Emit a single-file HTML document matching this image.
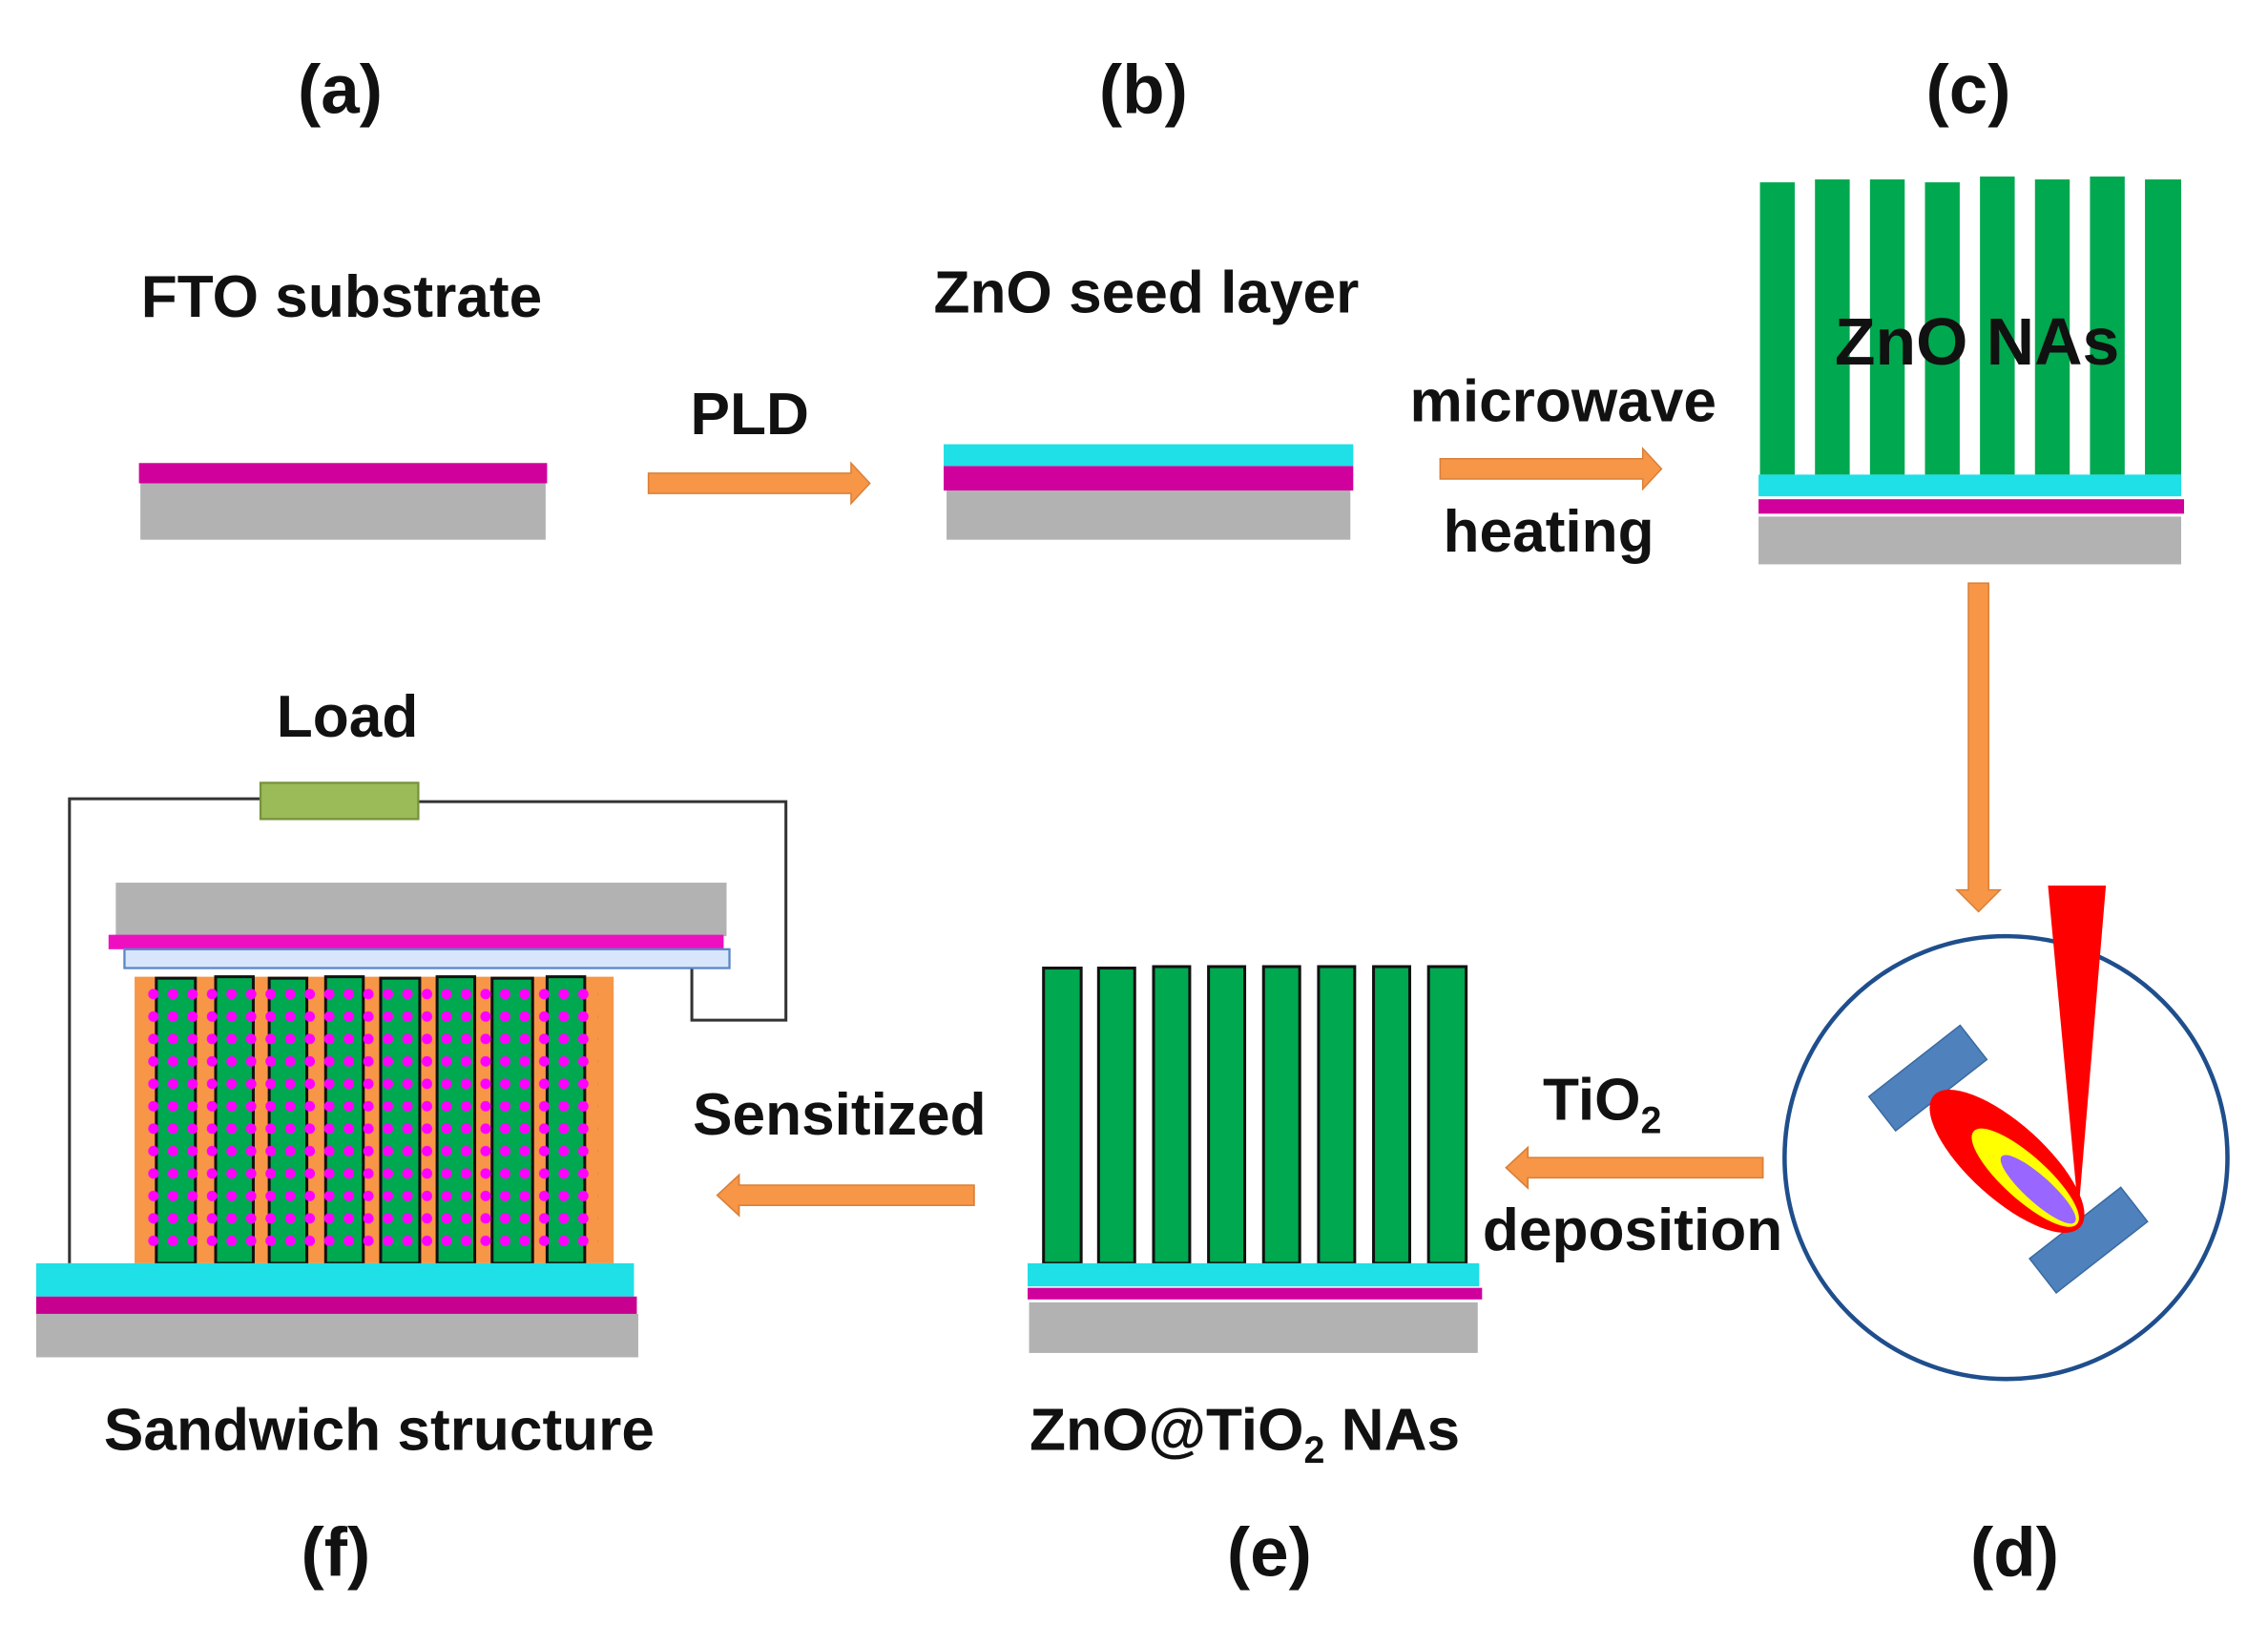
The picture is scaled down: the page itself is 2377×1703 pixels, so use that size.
<!DOCTYPE html>
<html><head><meta charset="utf-8"><style>html,body{margin:0;padding:0;background:#fff}svg{display:block}text{font-family:"Liberation Sans",Arial,sans-serif;font-weight:bold;fill:#111}</style></head>
<body>
<svg width="2377" height="1703" viewBox="0 0 1567 1123" preserveAspectRatio="none" xmlns="http://www.w3.org/2000/svg">
<defs>
<pattern id="dots" x="100" y="680" width="13.5" height="15.5" patternUnits="userSpaceOnUse">
<circle cx="6" cy="7" r="3.6" fill="#ff00ff"/>
</pattern>
<g id="arr">
<polygon points="0,-7 140,-7 140,-14 153,0 140,14 140,7 0,7" fill="#f79646" stroke="#d9803a" stroke-width="1"/>
</g>
</defs>
<text x="235" y="78" font-size="48" text-anchor="middle">(a)</text>
<text x="790" y="78" font-size="48" text-anchor="middle">(b)</text>
<text x="1360" y="78" font-size="48" text-anchor="middle">(c)</text>
<text x="232" y="1089" font-size="48" text-anchor="middle">(f)</text>
<text x="877" y="1089" font-size="48" text-anchor="middle">(e)</text>
<text x="1392" y="1089" font-size="48" text-anchor="middle">(d)</text>

<!-- a -->
<text x="236" y="219" font-size="41" text-anchor="middle">FTO substrate</text>
<rect x="97" y="334" width="280" height="39" fill="#b2b2b2"/>
<rect x="96" y="320" width="282" height="14" fill="#d0009c"/>
<text x="518" y="300" font-size="41" text-anchor="middle">PLD</text>
<use href="#arr" transform="translate(448,334)"/>

<!-- b -->
<text x="792" y="216" font-size="41" text-anchor="middle">ZnO seed layer</text>
<rect x="654" y="339" width="279" height="34" fill="#b2b2b2"/>
<rect x="652" y="322" width="283" height="17" fill="#d0009c"/>
<rect x="652" y="307" width="283" height="15" fill="#1ee0e6"/>
<text x="1080" y="291" font-size="41" text-anchor="middle">microwave</text>
<use href="#arr" transform="translate(995,324)"/>
<text x="1070" y="381" font-size="41" text-anchor="middle">heating</text>

<!-- c -->
<g fill="#00a84f">
<rect x="1216" y="126" width="24" height="202"/><rect x="1254" y="124" width="24" height="204"/>
<rect x="1292" y="124" width="24" height="204"/><rect x="1330" y="126" width="24" height="202"/>
<rect x="1368" y="122" width="24" height="206"/><rect x="1406" y="124" width="24" height="204"/>
<rect x="1444" y="122" width="24" height="206"/><rect x="1482" y="124" width="25" height="204"/>
</g>
<text x="1366" y="252" font-size="46" text-anchor="middle">ZnO NAs</text>
<rect x="1215" y="328" width="292" height="15" fill="#1ee0e6"/>
<rect x="1215" y="345" width="294" height="10" fill="#d0009c"/>
<rect x="1215" y="357" width="292" height="33" fill="#b2b2b2"/>
<polygon points="1360,403 1374,403 1374,615 1382,615 1367,630 1352,615 1360,615" fill="#f79646" stroke="#d9803a" stroke-width="1"/>

<!-- d -->
<circle cx="1386" cy="800" r="153" fill="none" stroke="#1f4e8c" stroke-width="3"/>
<rect x="1292" y="730" width="80" height="30" fill="#4f81bd" stroke="#3a6aa0" stroke-width="1" transform="rotate(-38 1332 745)"/>
<rect x="1403" y="842" width="80" height="30" fill="#4f81bd" stroke="#3a6aa0" stroke-width="1" transform="rotate(-38 1443 857)"/>
<g transform="translate(1435,846) rotate(-138)">
<ellipse cx="65" cy="0" rx="68" ry="26" fill="#ff0000"/>
<ellipse cx="48" cy="0" rx="48" ry="15" fill="#ffff00"/>
<ellipse cx="36" cy="0" rx="34" ry="9" fill="#9966ff"/>
</g>
<polygon points="1415,612 1455,612 1436,838" fill="#ff0000"/>
<text x="1066" y="774" font-size="41">TiO<tspan font-size="26" dy="9">2</tspan></text>
<use href="#arr" transform="translate(1218,807) scale(-1.16,1)"/>
<text x="1128" y="864" font-size="41" text-anchor="middle">deposition</text>

<!-- e -->
<g fill="#00a84f" stroke="#111" stroke-width="2">
<rect x="721" y="669" width="26" height="204"/><rect x="759" y="669" width="25" height="204"/>
<rect x="797" y="668" width="25" height="205"/><rect x="835" y="668" width="25" height="205"/>
<rect x="873" y="668" width="25" height="205"/><rect x="911" y="668" width="25" height="205"/>
<rect x="949" y="668" width="25" height="205"/><rect x="987" y="668" width="26" height="205"/>
</g>
<rect x="710" y="873" width="312" height="16" fill="#1ee0e6"/>
<rect x="710" y="890" width="314" height="8" fill="#d0009c"/>
<rect x="711" y="900" width="310" height="35" fill="#b2b2b2"/>
<text x="860" y="1002" font-size="41" text-anchor="middle">ZnO@TiO<tspan font-size="26" dy="9">2</tspan><tspan dy="-9"> NAs</tspan></text>
<text x="580" y="784" font-size="41" text-anchor="middle">Sensitized</text>
<use href="#arr" transform="translate(673,826) scale(-1.16,1)"/>

<!-- f -->
<text x="240" y="509" font-size="41" text-anchor="middle">Load</text>
<polyline points="48,873 48,552 180,552" fill="none" stroke="#333" stroke-width="2"/>
<polyline points="289,554 543,554 543,705 478,705 478,668" fill="none" stroke="#333" stroke-width="2"/>
<rect x="180" y="541" width="109" height="25" fill="#9bbb59" stroke="#77933c" stroke-width="1.5"/>
<rect x="80" y="610" width="422" height="37" fill="#b2b2b2"/>
<rect x="75" y="646" width="425" height="10" fill="#ee10c0"/>
<rect x="86" y="656" width="418" height="13" fill="#d8e6fb" stroke="#5a86c6" stroke-width="1.5"/>
<rect x="93" y="675" width="331" height="198" fill="#f79646"/>
<g fill="#00a84f" stroke="#111" stroke-width="2">
<rect x="108" y="676" width="27" height="197"/><rect x="149" y="675" width="26" height="198"/>
<rect x="186" y="676" width="26" height="197"/><rect x="225" y="675" width="26" height="198"/>
<rect x="263" y="676" width="27" height="197"/><rect x="302" y="675" width="26" height="198"/>
<rect x="340" y="676" width="28" height="197"/><rect x="378" y="675" width="26" height="198"/>
</g>
<rect x="101" y="678" width="312" height="190" fill="url(#dots)"/>
<rect x="25" y="873" width="413" height="23" fill="#1ee0e6"/>
<rect x="25" y="896" width="415" height="12" fill="#c8008f"/>
<rect x="25" y="908" width="416" height="30" fill="#b2b2b2"/>
<text x="262" y="1002" font-size="41" text-anchor="middle">Sandwich structure</text>
</svg>
</body></html>
